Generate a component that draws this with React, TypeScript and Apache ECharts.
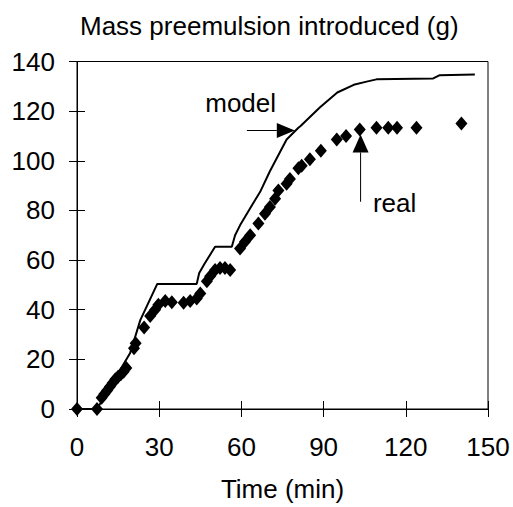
import React, { useEffect, useRef } from "react";
import * as echarts from "echarts";

const modelTime = [0, 7.3, 19.4, 20.8, 23.1, 29.3, 43.7, 44.6, 46.6, 50.4, 56.5, 57.7, 59.5, 63.8, 66.8, 70.4, 76.5, 80.8, 81.6, 88.7, 95, 101, 105.7, 109.3, 130, 132.4, 145.2];
const modelMass = [0, 0, 22.6, 27.5, 35.8, 50.4, 50.4, 54.8, 58.6, 65.4, 65.4, 70, 74, 82, 87.4, 95.8, 108.6, 113.3, 114, 121.6, 127.5, 130.6, 131.9, 132.8, 133.2, 134.5, 134.8];

const realTime = [0, 7.3, 9, 10, 11, 12, 13, 14, 15, 16, 17, 18, 20.8, 21.4, 24.5, 26.7, 28.5, 29.7, 32.2, 34.6, 38.9, 41.3, 43.7, 45, 47.4, 48.6, 50.4, 52.2, 54, 55.9, 59.5, 61.3, 63.2, 66.2, 68.6, 70.4, 72.3, 73.5, 76.5, 77.7, 80.8, 82, 85, 89, 94.8, 98.2, 103.2, 109.3, 113.6, 116.8, 123.9, 140.3];
const realMass = [0, 0, 4.5, 6, 7.5, 9, 10.5, 12, 13, 14, 15, 16.5, 24.5, 26.5, 32.8, 37.5, 40, 42, 43.5, 43, 42.8, 43.5, 44.5, 46.5, 51.5, 53.5, 56, 56.8, 56.8, 56, 64.7, 67.4, 70, 74.7, 78.7, 81.4, 84.7, 88, 90.7, 92.7, 97, 98, 100.6, 104, 108.6, 110, 112.6, 113.3, 113.3, 113.3, 113.3, 115];

const xMin = 0, xMax = 150, xStep = 30;
const yMin = 0, yMax = 140, yStep = 20;

const titleText = "Mass preemulsion introduced (g)";
const xName = "Time (min)";
const modelLabel = "model";
const realLabel = "real";
// annotation anchors in data units
const modelArrow = { from: [62.0, 112.2], to: [79.5, 112.2] };
const modelTextAt = [46.8, 123.4];
const realArrow = { from: [103.5, 83.5], to: [103.5, 110.6] };
const realTextAt = [108.0, 83.0];

const FONT = "'Liberation Sans', Arial, Helvetica, sans-serif";

export default function App() {
  const ref = useRef<HTMLDivElement>(null);
  useEffect(() => {
    if (!ref.current) return;
    const chart = echarts.init(ref.current, undefined, { renderer: "svg" });
    const axisCommon = {
      type: "value" as const,
      axisLine: { show: true, lineStyle: { color: "#000", width: 1 } },
      splitLine: { show: false },
    };
    chart.setOption({
      animation: false,
      backgroundColor: "#fff",
      textStyle: { fontFamily: FONT },
      title: {
        text: titleText,
        left: 75,
        top: 8,
        textStyle: { fontFamily: FONT, fontSize: 26, fontWeight: "normal", color: "#000" },
      },
      grid: {
        left: 77,
        right: 25,
        top: 61.5,
        bottom: 95,
        show: true,
        borderColor: "#000",
        borderWidth: 1,
        backgroundColor: "transparent",
      },
      xAxis: [
        {
          ...axisCommon,
          min: xMin, max: xMax, interval: xStep,
          position: "bottom",
          name: xName,
          nameLocation: "middle",
          nameGap: 67,
          nameTextStyle: { fontFamily: FONT, fontSize: 26, color: "#000" },
          axisTick: { show: true, inside: false, length: 8, lineStyle: { color: "#000" } },
          axisLabel: { fontFamily: FONT, fontSize: 26, color: "#000", margin: 25 },
        },
        {
          ...axisCommon,
          min: xMin, max: xMax, interval: xStep,
          position: "bottom",
          axisLine: { show: false },
          axisTick: { show: true, inside: true, length: 8, lineStyle: { color: "#000" } },
          axisLabel: { show: false },
        },
      ],
      yAxis: [
        {
          ...axisCommon,
          min: yMin, max: yMax, interval: yStep,
          position: "left",
          axisTick: { show: true, inside: false, length: 8, lineStyle: { color: "#000" } },
          axisLabel: { fontFamily: FONT, fontSize: 26, color: "#000", margin: 22 },
        },
        {
          ...axisCommon,
          min: yMin, max: yMax, interval: yStep,
          position: "left",
          axisLine: { show: false },
          axisTick: { show: true, inside: true, length: 8, lineStyle: { color: "#000" } },
          axisLabel: { show: false },
        },
      ],
      series: [
        {
          name: "model",
          type: "line",
          data: modelTime.map((t, i) => [t, modelMass[i]]),
          showSymbol: false,
          symbol: "none",
          lineStyle: { color: "#000", width: 2 },
          z: 3,
        },
        {
          name: "real",
          type: "scatter",
          data: realTime.map((t, i) => [t, realMass[i]]),
          symbol: "diamond",
          symbolSize: [12, 14],
          itemStyle: { color: "#000", opacity: 1 },
          z: 4,
        },
      ],
    });

    const px = (p: number[]) => chart.convertToPixel({ gridIndex: 0 }, p) as number[];
    const mA = px(modelArrow.from), mB = px(modelArrow.to);
    const rA = px(realArrow.from), rB = px(realArrow.to);
    const mT = px(modelTextAt), rT = px(realTextAt);
    const head = 18, half = 7.5;
    chart.setOption({
      graphic: [
        { type: "line", shape: { x1: mA[0], y1: mA[1], x2: mB[0] - head, y2: mB[1] }, style: { stroke: "#000", lineWidth: 1 }, z: 10 },
        { type: "polygon", shape: { points: [[mB[0], mB[1]], [mB[0] - head, mB[1] - half], [mB[0] - head, mB[1] + half]] }, style: { fill: "#000" }, z: 10 },
        { type: "line", shape: { x1: rA[0], y1: rA[1], x2: rB[0], y2: rB[1] + head }, style: { stroke: "#000", lineWidth: 1 }, z: 10 },
        { type: "polygon", shape: { points: [[rB[0], rB[1]], [rB[0] - 8, rB[1] + head], [rB[0] + 8, rB[1] + head]] }, style: { fill: "#000" }, z: 10 },
        { type: "text", x: mT[0], y: mT[1], style: { text: modelLabel, fontFamily: FONT, fontSize: 26, fill: "#000", textAlign: "left", textVerticalAlign: "middle" }, z: 10 },
        { type: "text", x: rT[0], y: rT[1], style: { text: realLabel, fontFamily: FONT, fontSize: 26, fill: "#000", textAlign: "left", textVerticalAlign: "middle" }, z: 10 },
      ],
    });
    return () => chart.dispose();
  }, []);
  return <div ref={ref} style={{ width: 513, height: 507, position: "absolute", left: 0, top: 0 }} />;
}
